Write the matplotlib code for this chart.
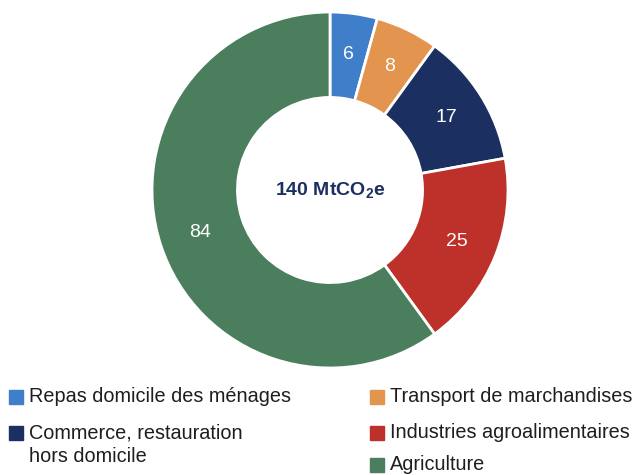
import matplotlib.pyplot as plt
import numpy as np
from matplotlib.patches import Rectangle

plt.rcParams['font.family'] = ['Liberation Sans', 'DejaVu Sans']
plt.rcParams['mathtext.default'] = 'regular'

categories = ["Repas domicile des ménages", "Transport de marchandises",
              "Commerce, restauration\nhors domicile", "Industries agroalimentaires",
              "Agriculture"]
values = [6, 8, 17, 25, 84]
colors = ["#3f7fc9", "#e3954f", "#1b2f60", "#bd312a", "#4b7e5c"]
total = sum(values)

fig = plt.figure(figsize=(6.32, 4.75), dpi=100)
W, H = 632, 475
cx, cy, R = 330, 285, 178
ax = fig.add_axes([(cx - R) / W, (cy - R) / H, 2 * R / W, 2 * R / H])

wedges, _ = ax.pie(values, colors=colors, startangle=90, counterclock=False,
                   radius=1, wedgeprops=dict(width=0.48, edgecolor="white", linewidth=2))
ax.set_xlim(-1, 1)
ax.set_ylim(-1, 1)
ax.axis("off")

# value labels in the middle of the ring
for w, v in zip(wedges, values):
    ang = np.deg2rad((w.theta1 + w.theta2) / 2)
    r = 0.77
    ax.text(r * np.cos(ang), r * np.sin(ang), str(v), ha="center", va="center",
            color="white", fontsize=14)

ax.text(0, 0, "140 MtCO$_{2}$e", ha="center", va="center", color="#1b2f60",
        fontsize=14, fontweight="bold")

# legend drawn by hand in two columns
leg_items = [(0, 397), (2, 433), (1, 397), (3, 433), (4, 465)]
for idx, (i, y) in enumerate(leg_items):
    x = 9 if idx < 2 else 370
    fig.patches.append(Rectangle((x / W, (H - y - 7) / H), 14 / W, 14 / H,
                                 transform=fig.transFigure, color=colors[i]))
    lbl = categories[i]
    fig.text((x + 20) / W, (H - y) / H, lbl.split("\n")[0], ha="left", va="center",
             fontsize=14.3, color="#1e1e1e")
    if "\n" in lbl:
        fig.text((x + 20) / W, (H - y - 24) / H, lbl.split("\n")[1], ha="left",
                 va="center", fontsize=14.3, color="#1e1e1e")

fig.savefig("out.png", dpi=100)
